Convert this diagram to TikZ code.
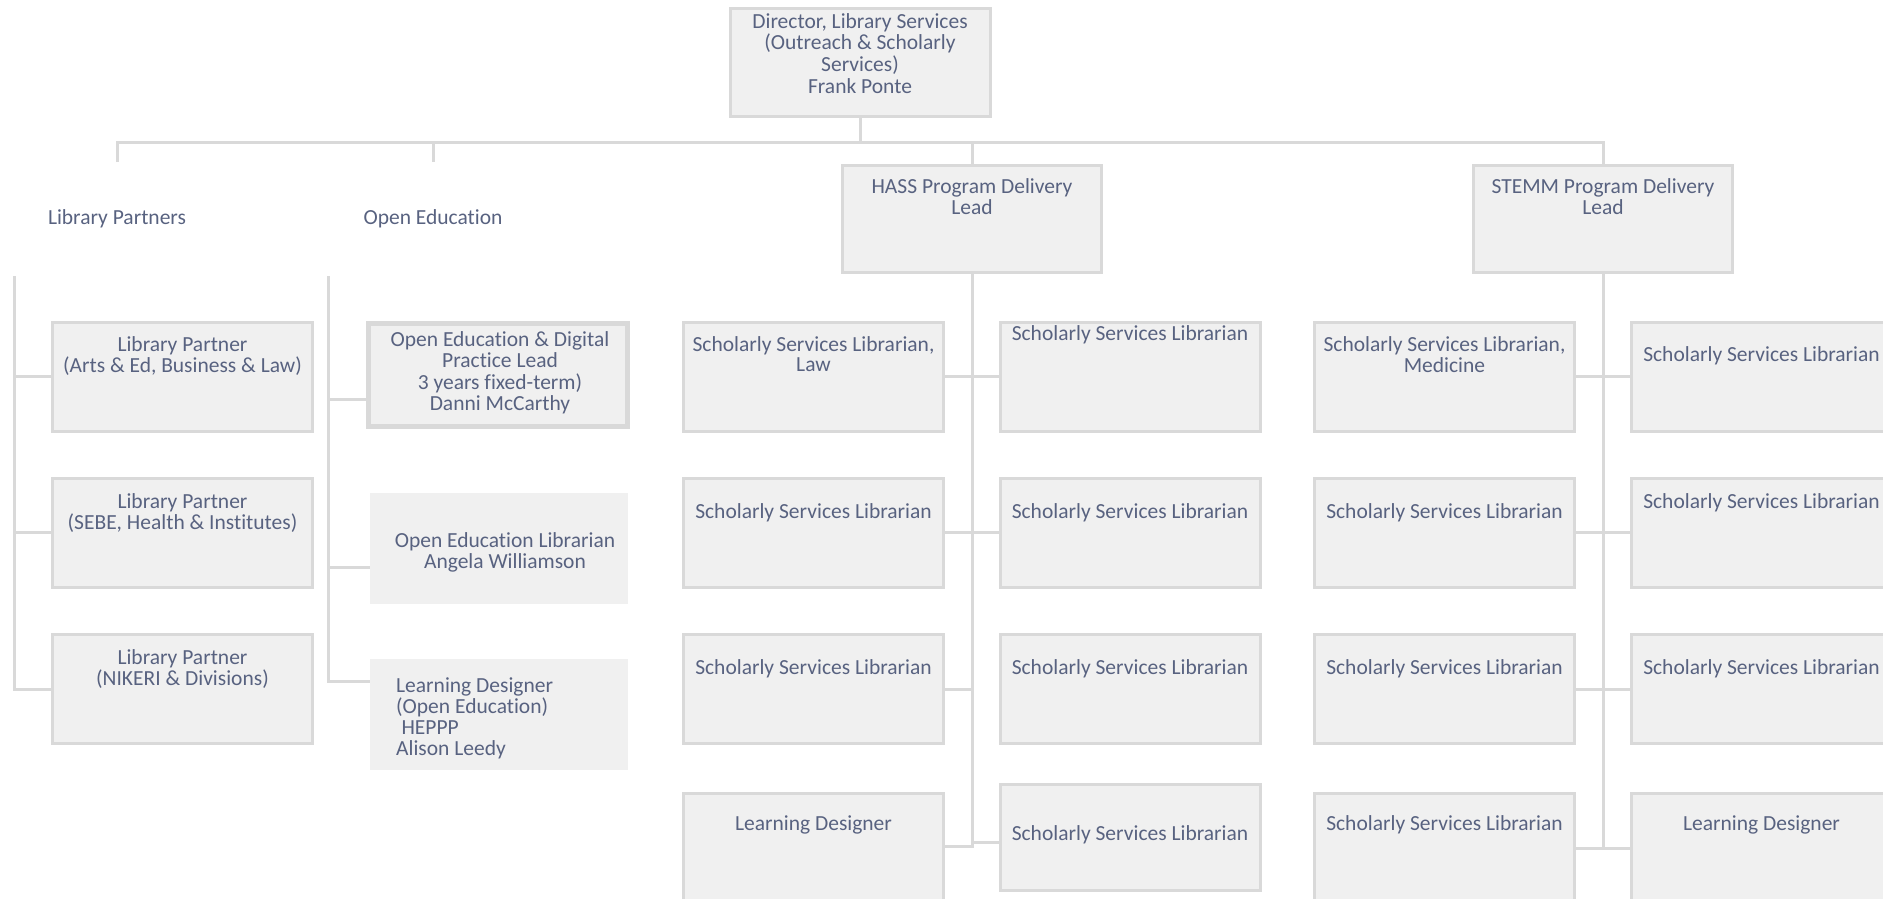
\documentclass[tikz,border=0pt]{standalone}
\usepackage{fontspec}
\setmainfont[Ligatures=NoCommon]{Carlito}
\definecolor{txt}{RGB}{88,98,128}
\definecolor{bd}{RGB}{217,217,217}
\definecolor{fl}{RGB}{240,240,240}
\newcommand{\ctxt}[1]{\begin{tabular}[t]{@{}c@{}}#1\end{tabular}}
\newcommand{\ltxt}[1]{\begin{tabular}[t]{@{}l@{}}#1\end{tabular}}
\begin{document}
\begin{tikzpicture}[x=1pt,y=-1pt,
  box/.style={draw=bd, line width=3pt, fill=fl, inner sep=0pt, minimum width=260pt, minimum height=109pt},
  plainbox/.style={fill=fl, draw=none, inner sep=0pt, minimum width=258pt, minimum height=111pt},
  lbl/.style={text=txt, inner sep=0pt, anchor=base, font=\fontsize{21.5}{20.7}\selectfont},
  conn/.style={draw=bd, line width=3pt}]
\useasboundingbox (0,0) rectangle (1883,898);
\clip (0,0) rectangle (1883,898);

% top
\node[box, minimum height=108pt] (dir) at (860.5,62.5) {};
\node[lbl] (dirT) at (860,28) {\ctxt{Director, Library Services\\(Outreach \& Scholarly\\Services)\\Frank Ponte}};

\node[box, minimum width=259pt, minimum height=107pt] (hass) at (972,219) {};
\node[lbl] (hassT) at (972,193) {\ctxt{HASS Program Delivery\\Lead}};
\node[box, minimum width=259pt, minimum height=107pt] (stemm) at (1603,219) {};
\node[lbl] (stemmT) at (1603,193) {\ctxt{STEMM Program Delivery\\Lead}};

\node[lbl] (lpH) at (117,224) {Library Partners};
\node[lbl] (oeH) at (433,224) {Open Education};

% library partners
\node[box] (lp1) at (182.5,376.5) {};
\node[lbl] (lp1T) at (182.5,351) {\ctxt{Library Partner\\(Arts \& Ed, Business \& Law)}};
\node[box] (lp2) at (182.5,532.5) {};
\node[lbl] (lp2T) at (182.5,508) {\ctxt{Library Partner\\(SEBE, Health \& Institutes)}};
\node[box] (lp3) at (182.5,689) {};
\node[lbl] (lp3T) at (182.5,664) {\ctxt{Library Partner\\(NIKERI \& Divisions)}};

% open education
\node[box, line width=5pt, minimum width=259pt, minimum height=103pt] (oe1) at (498,375) {};
\node[lbl] (oe1T) at (500,346) {\ctxt{Open Education \& Digital\\Practice Lead\\3 years fixed-term)\\Danni McCarthy}};
\node[plainbox] (oe2) at (499,548.5) {};
\node[lbl] (oe2T) at (505,547) {\ctxt{Open Education Librarian\\Angela Williamson}};
\node[plainbox] (oe3) at (499,714.5) {};
\node[lbl, anchor=base west] (oe3T) at (396,692) {\ltxt{Learning Designer\\(Open Education)\\\hspace{5.4pt}HEPPP\\Alison Leedy}};

% HASS children
\node[box] (h1l) at (813.5,376.5) {};
\node[lbl] (h1lT) at (813.5,351) {\ctxt{Scholarly Services Librarian,\\Law}};
\node[box] (h1r) at (1130,376.5) {};
\node[lbl] (h1rT) at (1130,340) {Scholarly Services Librarian};
\node[box] (h2l) at (813.5,532.5) {};
\node[lbl] (h2lT) at (813.5,518) {Scholarly Services Librarian};
\node[box] (h2r) at (1130,532.5) {};
\node[lbl] (h2rT) at (1130,518) {Scholarly Services Librarian};
\node[box] (h3l) at (813.5,689) {};
\node[lbl] (h3lT) at (813.5,674) {Scholarly Services Librarian};
\node[box] (h3r) at (1130,689) {};
\node[lbl] (h3rT) at (1130,674) {Scholarly Services Librarian};
\node[box, minimum height=110pt] (h4l) at (813.5,848.5) {};
\node[lbl] (h4lT) at (813.5,830) {Learning Designer};
\node[box, minimum height=106pt] (h4r) at (1130,837.5) {};
\node[lbl] (h4rT) at (1130,840) {Scholarly Services Librarian};

% STEMM children
\node[box] (s1l) at (1444.5,376.5) {};
\node[lbl] (s1lT) at (1444.5,351) {\ctxt{Scholarly Services Librarian,\\Medicine}};
\node[box] (s1r) at (1761.5,376.5) {};
\node[lbl] (s1rT) at (1761.5,361) {Scholarly Services Librarian};
\node[box] (s2l) at (1444.5,532.5) {};
\node[lbl] (s2lT) at (1444.5,518) {Scholarly Services Librarian};
\node[box] (s2r) at (1761.5,532.5) {};
\node[lbl] (s2rT) at (1761.5,508) {Scholarly Services Librarian};
\node[box] (s3l) at (1444.5,689) {};
\node[lbl] (s3lT) at (1444.5,674) {Scholarly Services Librarian};
\node[box] (s3r) at (1761.5,689) {};
\node[lbl] (s3rT) at (1761.5,674) {Scholarly Services Librarian};
\node[box, minimum height=110pt] (s4l) at (1444.5,848.5) {};
\node[lbl] (s4lT) at (1444.5,830) {Scholarly Services Librarian};
\node[box, minimum height=110pt] (s4r) at (1761.5,848.5) {};
\node[lbl] (s4rT) at (1761.5,830) {Learning Designer};

% top connectors
\coordinate (barL) at (117,142);
\coordinate (barR) at (1603,142);
\coordinate (lpS) at (117,162);
\coordinate (oeS) at (433,162);
\draw[conn] (dir.south) -- (dir.south |- barL);
\draw[conn] (lpS) -- (barL) -- (barR) -- (stemm.north);
\draw[conn] (oeS |- barL) -- (oeS);
\draw[conn] (hass.north |- barL) -- (hass.north);

% library partners connectors
\coordinate (lpV) at (14,276);
\draw[conn] (lpV) |- (lp3.west);
\draw[conn] (lpV |- lp1.west) -- (lp1.west);
\draw[conn] (lpV |- lp2.west) -- (lp2.west);

% open education connectors
\coordinate (oeV) at (328,276);
\coordinate (oe1c) at ([yshift=-24pt]oe1.west);
\coordinate (oe2c) at ([yshift=-18.5pt]oe2.west);
\coordinate (oe3c) at ([yshift=33.5pt]oe3.west);
\draw[conn] (oeV) |- (oe3c);
\draw[conn] (oeV |- oe1c) -- (oe1c);
\draw[conn] (oeV |- oe2c) -- (oe2c);

% HASS connectors
\coordinate (h4lc) at ([yshift=2.5pt]h4l.east);
\coordinate (h4rc) at ([yshift=-4.5pt]h4r.west);
\draw[conn] (hass.south) |- (h4lc);
\draw[conn] (h1l.east) -- (h1r.west);
\draw[conn] (h2l.east) -- (h2r.west);
\draw[conn] (h3l.east) -- (h3l.east -| hass.south);
\draw[conn] (h4rc -| hass.south) -- (h4rc);

% STEMM connectors
\draw[conn] (stemm.south) -- (stemm.south |- s4l.east);
\draw[conn] (s1l.east) -- (s1r.west);
\draw[conn] (s2l.east) -- (s2r.west);
\draw[conn] (s3l.east) -- (s3r.west);
\draw[conn] (s4l.east) -- (s4r.west);
\end{tikzpicture}
\end{document}
